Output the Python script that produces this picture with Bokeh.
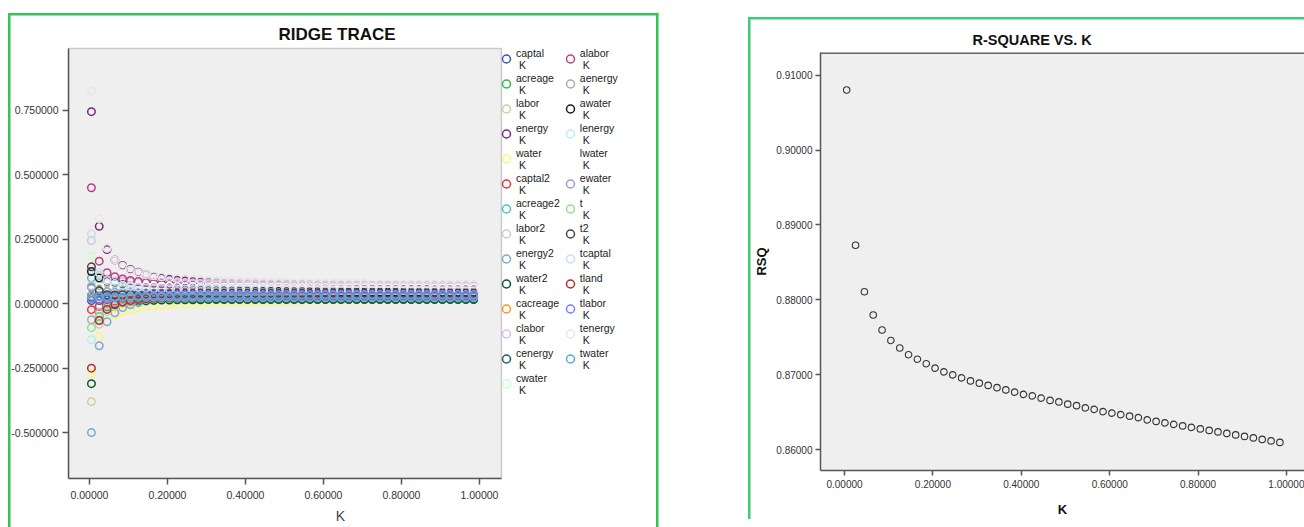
from bokeh.plotting import figure
from bokeh.models import (Range1d, FixedTicker, PrintfTickFormatter, Legend, LegendItem,
                          LinearAxis, Span, BoxAnnotation)
from bokeh.layouts import row
from bokeh.embed import file_html
from bokeh.resources import INLINE

# ---------------- data ----------------
K = [0.005, 0.025, 0.045, 0.065, 0.085, 0.105, 0.125, 0.145, 0.165, 0.185,
     0.205, 0.225, 0.245, 0.265, 0.285, 0.305, 0.325, 0.345, 0.365, 0.385,
     0.405, 0.425, 0.445, 0.465, 0.485, 0.505, 0.525, 0.545, 0.565, 0.585,
     0.605, 0.625, 0.645, 0.665, 0.685, 0.705, 0.725, 0.745, 0.765, 0.785,
     0.805, 0.825, 0.845, 0.865, 0.885, 0.905, 0.925, 0.945, 0.965, 0.985]

captal = [0.012, 0.012, 0.015, 0.018, 0.021, 0.024, 0.027, 0.029, 0.031, 0.033,
          0.034, 0.035, 0.035, 0.036, 0.036, 0.037, 0.037, 0.037, 0.038, 0.038,
          0.038, 0.038, 0.039, 0.039, 0.039, 0.039, 0.039, 0.040, 0.040, 0.040,
          0.040, 0.040, 0.040, 0.040, 0.040, 0.040, 0.040, 0.040, 0.040, 0.040,
          0.040, 0.040, 0.040, 0.040, 0.040, 0.040, 0.040, 0.040, 0.040, 0.040]
acreage = [0.060, 0.085, 0.070, 0.058, 0.050, 0.044, 0.040, 0.037, 0.034, 0.032,
           0.030, 0.029, 0.028, 0.027, 0.026, 0.026, 0.025, 0.025, 0.024, 0.024,
           0.024, 0.023, 0.023, 0.023, 0.022, 0.022, 0.022, 0.022, 0.022, 0.021,
           0.021, 0.021, 0.021, 0.021, 0.021, 0.021, 0.021, 0.020, 0.020, 0.020,
           0.020, 0.020, 0.020, 0.020, 0.020, 0.020, 0.020, 0.020, 0.020, 0.020]
labor = [-0.380, -0.080, -0.030, -0.012, -0.002, 0.004, 0.008, 0.011, 0.013, 0.015,
         0.016, 0.017, 0.018, 0.019, 0.019, 0.020, 0.020, 0.021, 0.021, 0.021,
         0.021, 0.022, 0.022, 0.022, 0.022, 0.022, 0.022, 0.022, 0.022, 0.022,
         0.022, 0.022, 0.022, 0.022, 0.022, 0.022, 0.022, 0.022, 0.022, 0.022,
         0.022, 0.022, 0.022, 0.022, 0.022, 0.022, 0.022, 0.022, 0.022, 0.022]
energy = [0.745, 0.300, 0.210, 0.170, 0.148, 0.133, 0.122, 0.113, 0.106, 0.100,
          0.095, 0.091, 0.088, 0.085, 0.083, 0.081, 0.079, 0.077, 0.076, 0.075,
          0.074, 0.073, 0.072, 0.071, 0.070, 0.069, 0.068, 0.068, 0.067, 0.066,
          0.066, 0.065, 0.065, 0.064, 0.064, 0.063, 0.063, 0.062, 0.062, 0.062,
          0.061, 0.061, 0.060, 0.060, 0.060, 0.059, 0.059, 0.059, 0.058, 0.058]
water = [-0.270, -0.128, -0.070, -0.045, -0.030, -0.021, -0.015, -0.011, -0.008, -0.005,
         -0.003, -0.001, 0.001, 0.002, 0.003, 0.004, 0.005, 0.006, 0.007, 0.008,
         0.008, 0.009, 0.009, 0.010, 0.010, 0.011, 0.011, 0.011, 0.012, 0.012,
         0.012, 0.013, 0.013, 0.013, 0.013, 0.014, 0.014, 0.014, 0.014, 0.014,
         0.014, 0.015, 0.015, 0.015, 0.015, 0.015, 0.015, 0.015, 0.015, 0.015]
captal2 = [-0.023, -0.010, 0.002, 0.010, 0.015, 0.019, 0.021, 0.023, 0.024, 0.025,
           0.026, 0.027, 0.027, 0.028, 0.028, 0.028, 0.029, 0.029, 0.029, 0.029,
           0.029, 0.030, 0.030, 0.030, 0.030, 0.030, 0.030, 0.030, 0.030, 0.030,
           0.030, 0.030, 0.030, 0.030, 0.030, 0.030, 0.030, 0.030, 0.030, 0.030,
           0.030, 0.030, 0.030, 0.030, 0.030, 0.030, 0.030, 0.030, 0.030, 0.030]
acreage2 = [0.100, 0.070, 0.058, 0.052, 0.048, 0.045, 0.043, 0.042, 0.041, 0.040,
            0.040, 0.039, 0.039, 0.038, 0.038, 0.038, 0.037, 0.037, 0.037, 0.037,
            0.036, 0.036, 0.036, 0.036, 0.036, 0.036, 0.036, 0.036, 0.036, 0.036,
            0.036, 0.036, 0.036, 0.036, 0.036, 0.035, 0.035, 0.035, 0.035, 0.035,
            0.035, 0.035, 0.035, 0.035, 0.035, 0.035, 0.035, 0.035, 0.035, 0.035]
labor2 = [0.245, 0.110, 0.092, 0.088, 0.086, 0.085, 0.084, 0.083, 0.082, 0.082,
          0.081, 0.081, 0.080, 0.080, 0.079, 0.079, 0.078, 0.078, 0.078, 0.077,
          0.077, 0.077, 0.076, 0.076, 0.076, 0.075, 0.075, 0.075, 0.075, 0.074,
          0.074, 0.074, 0.073, 0.073, 0.073, 0.073, 0.072, 0.072, 0.072, 0.072,
          0.072, 0.071, 0.071, 0.071, 0.071, 0.071, 0.070, 0.070, 0.070, 0.070]
energy2 = [-0.500, -0.163, -0.070, -0.035, -0.015, -0.004, 0.004, 0.010, 0.014, 0.017,
           0.019, 0.021, 0.022, 0.023, 0.024, 0.025, 0.026, 0.026, 0.027, 0.027,
           0.028, 0.028, 0.028, 0.029, 0.029, 0.029, 0.029, 0.030, 0.030, 0.030,
           0.030, 0.030, 0.030, 0.030, 0.030, 0.030, 0.030, 0.030, 0.030, 0.030,
           0.030, 0.030, 0.030, 0.030, 0.030, 0.030, 0.030, 0.030, 0.030, 0.030]
water2 = [-0.310, -0.050, -0.012, 0.000, 0.006, 0.009, 0.011, 0.012, 0.013, 0.014,
          0.014, 0.015, 0.015, 0.015, 0.015, 0.016, 0.016, 0.016, 0.016, 0.016,
          0.016, 0.016, 0.016, 0.016, 0.016, 0.016, 0.016, 0.016, 0.016, 0.016,
          0.016, 0.016, 0.016, 0.016, 0.016, 0.016, 0.016, 0.016, 0.016, 0.016,
          0.016, 0.016, 0.016, 0.016, 0.016, 0.016, 0.016, 0.016, 0.016, 0.016]
cacreage = [0.040, 0.060, 0.050, 0.044, 0.040, 0.038, 0.036, 0.035, 0.034, 0.033,
            0.033, 0.032, 0.032, 0.032, 0.031, 0.031, 0.031, 0.031, 0.031, 0.030,
            0.030, 0.030, 0.030, 0.030, 0.030, 0.030, 0.030, 0.030, 0.030, 0.030,
            0.030, 0.030, 0.030, 0.030, 0.030, 0.030, 0.030, 0.030, 0.030, 0.030,
            0.030, 0.030, 0.030, 0.030, 0.030, 0.030, 0.030, 0.030, 0.030, 0.030]
clabor = [0.070, 0.080, 0.085, 0.086, 0.086, 0.085, 0.084, 0.083, 0.082, 0.081,
          0.080, 0.079, 0.078, 0.077, 0.076, 0.076, 0.075, 0.074, 0.074, 0.073,
          0.072, 0.072, 0.071, 0.071, 0.070, 0.070, 0.069, 0.069, 0.068, 0.068,
          0.068, 0.067, 0.067, 0.066, 0.066, 0.066, 0.065, 0.065, 0.065, 0.064,
          0.064, 0.064, 0.064, 0.063, 0.063, 0.063, 0.063, 0.062, 0.062, 0.062]
cenergy = [0.025, 0.030, 0.028, 0.026, 0.024, 0.023, 0.022, 0.021, 0.021, 0.020,
           0.020, 0.020, 0.019, 0.019, 0.019, 0.019, 0.019, 0.019, 0.018, 0.018,
           0.018, 0.018, 0.018, 0.018, 0.018, 0.018, 0.018, 0.018, 0.018, 0.018,
           0.018, 0.018, 0.018, 0.018, 0.018, 0.018, 0.018, 0.018, 0.018, 0.018,
           0.018, 0.018, 0.018, 0.018, 0.018, 0.018, 0.018, 0.018, 0.018, 0.018]
cwater = [0.185, 0.090, 0.072, 0.065, 0.062, 0.060, 0.059, 0.058, 0.057, 0.057,
          0.056, 0.056, 0.055, 0.055, 0.055, 0.054, 0.054, 0.054, 0.054, 0.053,
          0.053, 0.053, 0.053, 0.053, 0.052, 0.052, 0.052, 0.052, 0.052, 0.052,
          0.051, 0.051, 0.051, 0.051, 0.051, 0.051, 0.051, 0.051, 0.051, 0.051,
          0.051, 0.051, 0.050, 0.050, 0.050, 0.050, 0.050, 0.050, 0.050, 0.050]
alabor = [0.450, 0.165, 0.120, 0.105, 0.096, 0.090, 0.086, 0.082, 0.079, 0.077,
          0.075, 0.073, 0.072, 0.071, 0.070, 0.069, 0.068, 0.067, 0.066, 0.066,
          0.065, 0.065, 0.064, 0.064, 0.063, 0.063, 0.062, 0.062, 0.061, 0.061,
          0.061, 0.060, 0.060, 0.060, 0.059, 0.059, 0.059, 0.058, 0.058, 0.058,
          0.057, 0.057, 0.057, 0.057, 0.056, 0.056, 0.056, 0.056, 0.055, 0.055]
aenergy = [-0.062, -0.035, -0.010, 0.005, 0.015, 0.022, 0.027, 0.031, 0.034, 0.036,
           0.038, 0.039, 0.040, 0.041, 0.042, 0.042, 0.043, 0.043, 0.044, 0.044,
           0.044, 0.045, 0.045, 0.045, 0.045, 0.045, 0.045, 0.045, 0.045, 0.045,
           0.045, 0.045, 0.045, 0.045, 0.045, 0.045, 0.045, 0.045, 0.045, 0.045,
           0.045, 0.045, 0.045, 0.045, 0.045, 0.045, 0.045, 0.045, 0.045, 0.045]
awater = [0.125, 0.100, 0.088, 0.080, 0.074, 0.070, 0.066, 0.063, 0.061, 0.059,
          0.058, 0.057, 0.056, 0.055, 0.054, 0.053, 0.053, 0.052, 0.052, 0.051,
          0.051, 0.050, 0.050, 0.050, 0.049, 0.049, 0.049, 0.049, 0.048, 0.048,
          0.048, 0.048, 0.047, 0.047, 0.047, 0.047, 0.047, 0.046, 0.046, 0.046,
          0.046, 0.046, 0.046, 0.046, 0.045, 0.045, 0.045, 0.045, 0.045, 0.045]
lenergy = [-0.140, -0.060, -0.025, -0.008, 0.003, 0.010, 0.015, 0.019, 0.022, 0.024,
           0.025, 0.026, 0.027, 0.028, 0.029, 0.029, 0.030, 0.030, 0.030, 0.031,
           0.031, 0.031, 0.031, 0.031, 0.032, 0.032, 0.032, 0.032, 0.032, 0.032,
           0.032, 0.032, 0.032, 0.032, 0.032, 0.032, 0.032, 0.032, 0.032, 0.032,
           0.032, 0.032, 0.032, 0.032, 0.032, 0.032, 0.032, 0.032, 0.032, 0.032]
lwater = [0.050, 0.065, 0.070, 0.071, 0.071, 0.070, 0.070, 0.069, 0.069, 0.068,
          0.068, 0.067, 0.067, 0.067, 0.066, 0.066, 0.066, 0.065, 0.065, 0.065,
          0.065, 0.064, 0.064, 0.064, 0.064, 0.064, 0.063, 0.063, 0.063, 0.063,
          0.063, 0.062, 0.062, 0.062, 0.062, 0.062, 0.062, 0.061, 0.061, 0.061,
          0.061, 0.061, 0.061, 0.061, 0.060, 0.060, 0.060, 0.060, 0.060, 0.060]
ewater = [0.065, 0.050, 0.046, 0.044, 0.043, 0.042, 0.042, 0.041, 0.041, 0.041,
          0.041, 0.041, 0.041, 0.041, 0.041, 0.040, 0.040, 0.040, 0.040, 0.040,
          0.040, 0.040, 0.040, 0.040, 0.040, 0.040, 0.040, 0.040, 0.040, 0.040,
          0.040, 0.040, 0.040, 0.040, 0.040, 0.040, 0.040, 0.040, 0.040, 0.040,
          0.040, 0.040, 0.040, 0.040, 0.040, 0.040, 0.040, 0.040, 0.040, 0.040]
t = [-0.093, -0.050, -0.020, -0.005, 0.004, 0.010, 0.014, 0.017, 0.019, 0.020,
     0.021, 0.022, 0.022, 0.023, 0.023, 0.023, 0.024, 0.024, 0.024, 0.024,
     0.024, 0.025, 0.025, 0.025, 0.025, 0.025, 0.025, 0.025, 0.025, 0.025,
     0.025, 0.025, 0.025, 0.025, 0.025, 0.025, 0.025, 0.025, 0.025, 0.025,
     0.025, 0.025, 0.025, 0.025, 0.025, 0.025, 0.025, 0.025, 0.025, 0.025]
t2 = [0.143, 0.050, 0.035, 0.034, 0.035, 0.036, 0.037, 0.038, 0.038, 0.039,
      0.039, 0.040, 0.040, 0.040, 0.041, 0.041, 0.041, 0.041, 0.041, 0.041,
      0.041, 0.041, 0.041, 0.041, 0.041, 0.041, 0.041, 0.041, 0.041, 0.041,
      0.042, 0.042, 0.042, 0.042, 0.042, 0.042, 0.042, 0.042, 0.042, 0.042,
      0.042, 0.042, 0.042, 0.042, 0.042, 0.042, 0.042, 0.042, 0.042, 0.042]
tcaptal = [0.270, 0.120, 0.090, 0.078, 0.071, 0.067, 0.064, 0.062, 0.060, 0.059,
           0.058, 0.057, 0.057, 0.056, 0.056, 0.055, 0.055, 0.055, 0.054, 0.054,
           0.054, 0.053, 0.053, 0.053, 0.053, 0.052, 0.052, 0.052, 0.052, 0.052,
           0.051, 0.051, 0.051, 0.051, 0.051, 0.051, 0.051, 0.051, 0.051, 0.051,
           0.051, 0.051, 0.051, 0.050, 0.050, 0.050, 0.050, 0.050, 0.050, 0.050]
tland = [-0.250, -0.065, -0.022, -0.004, 0.006, 0.012, 0.016, 0.019, 0.021, 0.022,
         0.023, 0.024, 0.025, 0.025, 0.026, 0.026, 0.026, 0.027, 0.027, 0.027,
         0.027, 0.027, 0.028, 0.028, 0.028, 0.028, 0.028, 0.028, 0.028, 0.028,
         0.028, 0.028, 0.028, 0.028, 0.028, 0.028, 0.028, 0.028, 0.028, 0.028,
         0.028, 0.028, 0.028, 0.028, 0.028, 0.028, 0.028, 0.028, 0.028, 0.028]
tlabor = [0.020, 0.018, 0.020, 0.023, 0.025, 0.027, 0.029, 0.030, 0.031, 0.032,
          0.032, 0.033, 0.033, 0.033, 0.033, 0.033, 0.033, 0.033, 0.033, 0.033,
          0.033, 0.033, 0.033, 0.033, 0.033, 0.034, 0.034, 0.034, 0.034, 0.034,
          0.034, 0.034, 0.034, 0.034, 0.034, 0.034, 0.034, 0.034, 0.034, 0.034,
          0.034, 0.034, 0.034, 0.034, 0.034, 0.034, 0.034, 0.034, 0.034, 0.034]
tenergy = [0.825, 0.330, 0.215, 0.170, 0.145, 0.130, 0.120, 0.113, 0.108, 0.104,
           0.101, 0.098, 0.096, 0.094, 0.092, 0.091, 0.089, 0.088, 0.087, 0.086,
           0.085, 0.084, 0.084, 0.083, 0.082, 0.082, 0.081, 0.081, 0.080, 0.080,
           0.079, 0.079, 0.079, 0.078, 0.078, 0.078, 0.077, 0.077, 0.077, 0.077,
           0.076, 0.076, 0.076, 0.076, 0.076, 0.075, 0.075, 0.075, 0.075, 0.075]
twater = [0.030, 0.028, 0.027, 0.026, 0.026, 0.026, 0.025, 0.025, 0.025, 0.025,
          0.025, 0.025, 0.025, 0.025, 0.025, 0.025, 0.025, 0.025, 0.025, 0.025,
          0.025, 0.025, 0.025, 0.025, 0.025, 0.025, 0.025, 0.025, 0.025, 0.025,
          0.025, 0.025, 0.025, 0.025, 0.025, 0.025, 0.025, 0.025, 0.025, 0.025,
          0.025, 0.025, 0.025, 0.025, 0.025, 0.025, 0.025, 0.025, 0.025, 0.025]

SERIES_NAMES = ["captal", "acreage", "labor", "energy", "water", "captal2", "acreage2",
                "labor2", "energy2", "water2", "cacreage", "clabor", "cenergy", "cwater",
                "alabor", "aenergy", "awater", "lenergy", "lwater", "ewater", "t", "t2",
                "tcaptal", "tland", "tlabor", "tenergy", "twater"]
SERIES_VALUES = [captal, acreage, labor, energy, water, captal2, acreage2,
                 labor2, energy2, water2, cacreage, clabor, cenergy, cwater,
                 alabor, aenergy, awater, lenergy, lwater, ewater, t, t2,
                 tcaptal, tland, tlabor, tenergy, twater]
SERIES_COLORS = ["#3E58AC", "#2EB848", "#D3CE97", "#7C287D", "#FBF873", "#EF3338", "#48C2C5",
                 "#CCCCCC", "#7AAAD5", "#0A562C", "#F8981D", "#DDBAF1", "#1A5F76", "#CCFFCC",
                 "#BB3F7F", "#AAAAAA", "#1A1A1A", "#BDEBEE", "#FFFFFF", "#9C9AD6", "#90E090",
                 "#444444", "#C6DDF5", "#B82A2A", "#7A7AFF", "#E6E6E6", "#5BAAD0"]

RSQ = [0.9080, 0.8873, 0.8811, 0.8780, 0.8760, 0.8746, 0.8736, 0.8727, 0.8721, 0.8715,
       0.8709, 0.8704, 0.8700, 0.8696, 0.8692, 0.8689, 0.8686, 0.8683, 0.8680, 0.8677,
       0.8674, 0.8672, 0.8669, 0.8666, 0.8664, 0.8661, 0.8659, 0.8656, 0.8654, 0.8651,
       0.8649, 0.8647, 0.8645, 0.8643, 0.8640, 0.8638, 0.8636, 0.8634, 0.8632, 0.8630,
       0.8628, 0.8626, 0.8624, 0.8622, 0.8620, 0.8618, 0.8616, 0.8614, 0.8612, 0.8610]

X_TICKS = [0.0, 0.2, 0.4, 0.6, 0.8, 1.0]
RIDGE_Y_TICKS = [-0.5, -0.25, 0.0, 0.25, 0.5, 0.75]
RSQ_Y_TICKS = [0.86, 0.87, 0.88, 0.89, 0.90, 0.91]

for name, vals in zip(SERIES_NAMES, SERIES_VALUES):
    if len(vals) != len(K):
        raise ValueError(f"{name} has {len(vals)} values")

FONT = "Liberation Sans"
GREEN_L = "#35C257"
GREEN_R = "#3CCB78"

# plot-area extents (data units) of the ridge trace; the frame itself is wider
RX0, RX1, RY0, RY1 = -0.0538, 1.0564, -0.678, 0.99


def style_axes(p, size):
    for ax in (p.xaxis[0], p.yaxis[0]):
        ax.axis_line_color = "#555555"
        ax.axis_line_width = 1.5
        ax.major_tick_line_color = "#555555"
        ax.major_tick_line_width = 1.5
        ax.major_tick_in = 0
        ax.major_tick_out = 6
        ax.minor_tick_line_color = None
        ax.major_label_text_font = FONT
        ax.major_label_text_font_size = size
        ax.major_label_text_color = "#333333"
        ax.major_label_standoff = 4
    p.xgrid.visible = False
    p.ygrid.visible = False


def green_lines(color, rects):
    grad = ", ".join([f"linear-gradient({color},{color})"] * len(rects))
    sizes = ", ".join(f"{w}px {h}px" for (_, _, w, h) in rects)
    poss = ", ".join(f"{x}px {y}px" for (x, y, _, _) in rects)
    return {"background-image": grad, "background-size": sizes,
            "background-position": poss, "background-repeat": "no-repeat"}


def style_title(title, size, offset, standoff):
    title.align = "left"
    title.offset = offset
    title.standoff = standoff
    title.text_font = FONT
    title.text_font_size = size
    title.text_font_style = "bold"
    title.text_color = "#111111"


# ---------------- left: ridge trace ----------------
p1 = figure(width=700, height=527, output_backend="svg", toolbar_location=None,
            x_range=Range1d(RX0, 1.4385), y_range=Range1d(RY0, 0.9977),
            min_border_left=68, min_border_right=50, min_border_top=46, min_border_bottom=47)
p1.background_fill_color = "white"
p1.border_fill_color = None
p1.outline_line_color = None
style_axes(p1, "10.5px")
p1.xaxis.ticker = FixedTicker(ticks=X_TICKS)
p1.xaxis.formatter = PrintfTickFormatter(format="%.5f")
p1.xaxis.bounds = (RX0, RX1)
p1.xaxis.major_label_standoff = 6
p1.yaxis.ticker = FixedTicker(ticks=RIDGE_Y_TICKS)
p1.yaxis.formatter = PrintfTickFormatter(format="%.6f")
p1.yaxis.bounds = (RY0, RY1)
p1.styles = green_lines(GREEN_L, [(8, 13, 2.5, 520), (8, 13, 650.5, 2.5), (656, 13, 2.5, 520)])
p1.add_layout(BoxAnnotation(left=RX0, right=RX1, bottom=RY0, top=RY1, level="underlay",
                            fill_color="#EFEFEF", fill_alpha=1,
                            line_color="#666666", line_width=1.5))

p1.title.text = "RIDGE TRACE"
style_title(p1.title, "17px", 210, 5)

# "K" axis title of the left chart sits right of the frame centre
K_TITLE_AT = 0.6436
kax = LinearAxis(ticker=FixedTicker(ticks=[K_TITLE_AT]),
                 major_label_overrides={K_TITLE_AT: "K"},
                 axis_line_color=None, major_tick_line_color=None,
                 minor_tick_line_color=None, major_tick_out=0, major_tick_in=0,
                 major_label_standoff=6, major_label_text_font=FONT,
                 major_label_text_font_size="14px", major_label_text_color="#444444")
p1.add_layout(kax, "below")

items = []
for name, vals, col in zip(SERIES_NAMES, SERIES_VALUES, SERIES_COLORS):
    r = p1.scatter(K, vals, marker="circle", size=7.5, fill_color=None,
                   line_color=col, line_width=1.5)
    items.append(LegendItem(label=name + "\n K", renderers=[r]))

legend = Legend(items=items, location=(428, 82), orientation="vertical", ncols=2,
                padding=0, margin=0, spacing=0, glyph_width=20, glyph_height=25,
                label_height=25, label_standoff=0, label_text_font=FONT,
                label_text_font_size="10.5px", label_text_line_height=1.1,
                label_text_color="#222222", background_fill_alpha=0,
                border_line_color=None)
p1.add_layout(legend, "center")

# ---------------- right: R-square vs K ----------------
p2 = figure(width=604, height=513, output_backend="svg", toolbar_location=None,
            x_range=Range1d(-0.0543, 1.0407), y_range=Range1d(0.85725, 0.91301),
            min_border_left=120, min_border_right=0, min_border_top=46, min_border_bottom=47)
p2.margin = (6, 0, 0, 0)
p2.background_fill_color = "#EFEFEF"
p2.border_fill_color = None
p2.outline_line_color = None
style_axes(p2, "10px")
p2.xaxis.ticker = FixedTicker(ticks=X_TICKS)
p2.xaxis.formatter = PrintfTickFormatter(format="%.5f")
p2.yaxis.ticker = FixedTicker(ticks=RSQ_Y_TICKS)
p2.yaxis.formatter = PrintfTickFormatter(format="%.5f")
p2.yaxis.major_tick_out = 5
p2.yaxis.major_label_standoff = 3
p2.xaxis.major_tick_out = 5
p2.xaxis.axis_label = "K"
p2.xaxis.axis_label_standoff = 11
p2.yaxis.axis_label = "RSQ"
p2.yaxis.axis_label_standoff = 4
for ax in (p2.xaxis[0], p2.yaxis[0]):
    ax.axis_label_text_font = FONT
    ax.axis_label_text_font_size = "13px"
    ax.axis_label_text_font_style = "bold"
    ax.axis_label_text_color = "#111111"
p2.add_layout(Span(location=0.91301, dimension="width", line_color="#666666", line_width=3))
p2.scatter(K, RSQ, marker="circle", size=6.5, fill_color=None,
           line_color="#333333", line_width=1.1)
p2.styles = green_lines(GREEN_R, [(48, 10.5, 2.5, 520), (48, 10.5, 560, 2.5)])

p2.title.text = "R-SQUARE VS. K"
style_title(p2.title, "14.5px", 152, 10)

layout = row(p1, p2)
open("out.html", "w").write(file_html(layout, INLINE))
